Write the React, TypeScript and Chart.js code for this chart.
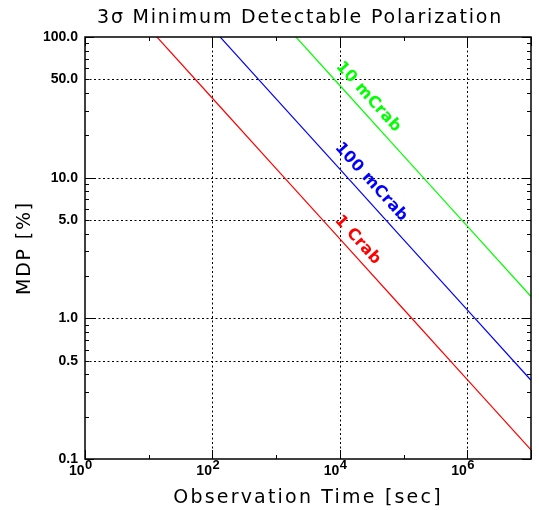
import React, { useEffect, useRef } from "react";
import { Chart, registerables } from "chart.js";

Chart.register(...registerables);

// ---- data ----
const TIMES = [1e1, 1e2, 1e3, 1e4, 1e5, 1e6, 1e7];
const MDP_1CRAB = [116, 36.7, 11.6, 3.67, 1.16, 0.367, 0.116];
const MDP_100MCRAB = [363, 115, 36.3, 11.5, 3.63, 1.15, 0.363];
const MDP_10MCRAB = [1430, 452, 143, 45.2, 14.3, 4.52, 1.43];

const SERIES_NAMES = ["1 Crab", "100 mCrab", "10 mCrab"];
const SERIES_COLORS = ["#ff0000", "#0000ff", "#00ff00"];
// label anchor (data coords) for the in-plot line labels
const LABEL_X = [1.9e4, 3.1e4, 2.8e4];
const LABEL_Y = [3.6, 9.3, 37.5];

const Y_TICKS = [0.1, 0.5, 1, 5, 10, 50, 100];
const Y_TICK_LABELS = ["0.1", "0.5", "1.0", "5.0", "10.0", "50.0", "100.0"];
const Y_GRID = [0.5, 1, 5, 10, 50];
const X_TICKS = [1, 1e2, 1e4, 1e6];
const X_TICK_EXPONENTS = ["0", "2", "4", "6"];
const X_GRID = [1e2, 1e4, 1e6];
const X_MINOR = [1e1, 1e3, 1e5];
const X_MIN = 1;
const X_MAX = 1e7;
const Y_MIN = 0.1;
const Y_MAX = 100;

const TITLE = "3\u03c3 Minimum Detectable Polarization";
const X_TITLE = "Observation Time [sec]";
const Y_TITLE = "MDP [%]";

const SERIES = [MDP_1CRAB, MDP_100MCRAB, MDP_10MCRAB];

const idlPlugin = {
  id: "idlFrame",
  beforeDatasetsDraw(chart: any) {
    const { ctx, chartArea: a, scales } = chart;
    const x = scales.x;
    const y = scales.y;
    ctx.save();
    ctx.strokeStyle = "#000";
    ctx.lineWidth = 1;
    ctx.setLineDash([2, 2.5]);
    for (const v of X_GRID) {
      const px = Math.round(x.getPixelForValue(v)) + 0.5;
      ctx.beginPath();
      ctx.moveTo(px, a.top);
      ctx.lineTo(px, a.bottom);
      ctx.stroke();
    }
    for (const v of Y_GRID) {
      const py = Math.round(y.getPixelForValue(v)) + 0.5;
      ctx.beginPath();
      ctx.moveTo(a.left, py);
      ctx.lineTo(a.right, py);
      ctx.stroke();
    }
    ctx.restore();
  },
  afterDatasetsDraw(chart: any) {
    const { ctx, chartArea: a, scales } = chart;
    const x = scales.x;
    const y = scales.y;
    ctx.save();
    ctx.strokeStyle = "#000";
    ctx.setLineDash([]);
    ctx.lineWidth = 1.5;
    ctx.strokeRect(a.left, a.top, a.right - a.left, a.bottom - a.top);

    // y ticks (both sides, inward)
    ctx.lineWidth = 1;
    for (let e = -1; e <= 2; e++) {
      for (let k = 1; k <= 9; k++) {
        const v = k * Math.pow(10, e);
        if (v < Y_MIN - 1e-9 || v > Y_MAX + 1e-9) continue;
        const len = k === 1 ? 9 : 4;
        const py = Math.round(y.getPixelForValue(v)) + 0.5;
        ctx.beginPath();
        ctx.moveTo(a.left, py);
        ctx.lineTo(a.left + len, py);
        ctx.moveTo(a.right, py);
        ctx.lineTo(a.right - len, py);
        ctx.stroke();
      }
    }
    // x ticks (both sides, inward)
    const xt = [...X_TICKS, X_MAX];
    for (const v of xt) {
      const px = Math.round(x.getPixelForValue(v)) + 0.5;
      ctx.beginPath();
      ctx.moveTo(px, a.bottom);
      ctx.lineTo(px, a.bottom - 9);
      ctx.moveTo(px, a.top);
      ctx.lineTo(px, a.top + 9);
      ctx.stroke();
    }
    for (const v of X_MINOR) {
      const px = Math.round(x.getPixelForValue(v)) + 0.5;
      ctx.beginPath();
      ctx.moveTo(px, a.bottom);
      ctx.lineTo(px, a.bottom - 4);
      ctx.moveTo(px, a.top);
      ctx.lineTo(px, a.top + 4);
      ctx.stroke();
    }

    // x tick labels 10^n
    ctx.fillStyle = "#000";
    ctx.textBaseline = "alphabetic";
    X_TICKS.forEach((v, i) => {
      const px = x.getPixelForValue(v);
      ctx.font = "bold 14px 'Liberation Sans'";
      const wBase = ctx.measureText("10").width;
      ctx.textAlign = "left";
      const left = px - wBase - 0.5;
      ctx.fillText("10", left, a.bottom + 16);
      ctx.font = "bold 13px 'Liberation Sans'";
      ctx.fillText(X_TICK_EXPONENTS[i], left + wBase + 0.5, a.bottom + 10);
    });

    // line labels
    chart.data.datasets.forEach((ds: any, i: number) => {
      const meta = chart.getDatasetMeta(i);
      const pts = meta.data;
      const p0 = pts[0];
      const p1 = pts[pts.length - 1];
      const ang = Math.atan2(p1.y - p0.y, p1.x - p0.x);
      const cx = x.getPixelForValue(LABEL_X[i]);
      const cy = y.getPixelForValue(LABEL_Y[i]);
      ctx.save();
      ctx.translate(cx, cy);
      ctx.rotate(ang);
      ctx.fillStyle = SERIES_COLORS[i];
      ctx.font = "bold 16px 'DejaVu Sans'";
      (ctx as any).letterSpacing = "0.3px";
      ctx.textAlign = "center";
      ctx.textBaseline = "middle";
      ctx.fillText(SERIES_NAMES[i], 0, 0);
      ctx.restore();
    });

    // titles
    ctx.fillStyle = "#000";
    ctx.textAlign = "center";
    ctx.textBaseline = "middle";
    (ctx as any).letterSpacing = "1.8px";
    ctx.font = "19px 'DejaVu Sans'";
    ctx.fillText(TITLE, 300, 18);
    ctx.font = "19px 'DejaVu Sans'";
    (ctx as any).letterSpacing = "2.2px";
    ctx.fillText(X_TITLE, (a.left + a.right) / 2, 498);
    (ctx as any).letterSpacing = "1.8px";
    ctx.save();
    ctx.translate(25, (a.top + a.bottom) / 2);
    ctx.rotate(-Math.PI / 2);
    ctx.fillText(Y_TITLE, 0, 0);
    ctx.restore();
    (ctx as any).letterSpacing = "0px";
    ctx.restore();
  },
};

export default function App() {
  const ref = useRef<HTMLCanvasElement | null>(null);
  useEffect(() => {
    if (!ref.current) return;
    const chart = new Chart(ref.current, {
      type: "line",
      data: {
        datasets: SERIES.map((vals, i) => ({
          label: SERIES_NAMES[i],
          data: TIMES.map((t, j) => ({ x: t, y: vals[j] })),
          borderColor: SERIES_COLORS[i],
          backgroundColor: SERIES_COLORS[i],
          borderWidth: 1.2,
          pointRadius: 0,
          tension: 0,
          fill: false,
        })),
      },
      options: {
        animation: false,
        responsive: false,
        events: [],
        layout: { padding: { top: 37, right: 8, left: 0, bottom: 0 } },
        plugins: {
          legend: { display: false },
          tooltip: { enabled: false },
          title: { display: false },
        },
        scales: {
          x: {
            type: "logarithmic",
            min: X_MIN,
            max: X_MAX,
            grid: { display: false, drawTicks: false },
            border: { display: false },
            ticks: { display: false },
            afterFit: (s: any) => {
              s.height = 51;
            },
          },
          y: {
            type: "logarithmic",
            min: Y_MIN,
            max: Y_MAX,
            grid: { display: false, drawTicks: false },
            border: { display: false },
            afterBuildTicks: (s: any) => {
              s.ticks = Y_TICKS.map((v) => ({ value: v }));
            },
            ticks: {
              autoSkip: false,
              padding: 7,
              color: "#000",
              font: { family: "'Liberation Sans'", weight: "bold", size: 14 },
              callback: (v: any) => {
                const idx = Y_TICKS.findIndex((t) => Math.abs(t - Number(v)) < 1e-9);
                return idx >= 0 ? Y_TICK_LABELS[idx] : "";
              },
            },
            afterFit: (s: any) => {
              s.width = 85;
            },
          },
        },
      } as any,
      plugins: [idlPlugin],
    });
    return () => chart.destroy();
  }, []);
  return (
    <div style={{ position: "absolute", left: 0, top: 0, width: 539, height: 510, background: "#fff" }}>
      <canvas ref={ref} width={539} height={510} />
    </div>
  );
}
